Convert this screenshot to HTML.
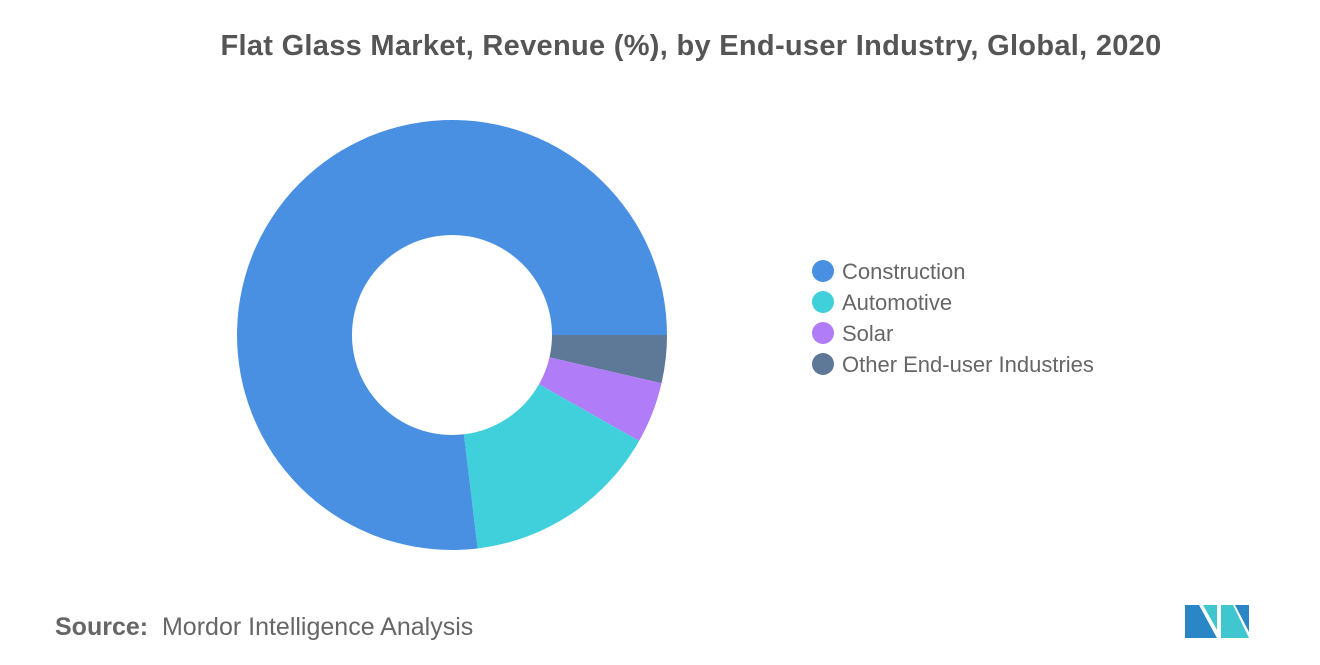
<!DOCTYPE html>
<html><head><meta charset="utf-8"><style>
body{margin:0;width:1320px;height:665px;background:#fff;font-family:"Liberation Sans",sans-serif;overflow:hidden;position:relative}
.t{position:absolute;left:0;width:1382px;top:30px;text-align:center;font-size:29px;color:#555;font-weight:bold;letter-spacing:0.3px}
.leg{position:absolute;left:812px;font-size:22px;color:#666;}
.leg span{display:inline-block;width:22px;height:22px;border-radius:50%;vertical-align:-3px;margin-right:8px}
.src{position:absolute;left:55px;top:613px;font-size:25px;color:#666}
</style></head><body>
<div class="t">Flat Glass Market, Revenue (%), by End-user Industry, Global, 2020</div>
<svg id="c" width="1320" height="665" style="position:absolute;left:0;top:0"></svg>
<div class="leg" style="top:259px"><span style="background:#4a90e2"></span>Construction</div>
<div class="leg" style="top:290px"><span style="background:#3fd0db"></span>Automotive</div>
<div class="leg" style="top:321px"><span style="background:#b07cf7"></span>Solar</div>
<div class="leg" style="top:352px"><span style="background:#5e7898"></span>Other End-user Industries</div>
<div class="src"><b>Source:</b>&nbsp; Mordor Intelligence Analysis</div>
<svg width="70" height="40" style="position:absolute;left:1183px;top:602px">
<polygon points="2,3 16,3 34,36 2,36" fill="#2a86c4"/>
<polygon points="20,3 34,3 34,28" fill="#3fc6cf"/>
<polygon points="38,3 50,3 66,36 38,36" fill="#3fc6cf"/>
<polygon points="52,3 66,3 66,30" fill="#2a86c4"/>
</svg>
<script>
const categories=["Other End-user Industries","Solar","Automotive","Construction"];
const values=[3.6,4.6,14.9,76.9];
const colors=["#5e7898","#b07cf7","#3fd0db","#4a90e2"];
const svg=document.getElementById('c');
const cx=452,cy=335,R=215,r=100;
const total=values.reduce((a,b)=>a+b,0);
let a0=0;
function pt(rad,a){return [cx+rad*Math.cos(a),cy+rad*Math.sin(a)];}
values.forEach((v,i)=>{
 const a1=a0+v/total*2*Math.PI;
 const lg=(a1-a0)>Math.PI?1:0;
 const p1=pt(R,a0),p2=pt(R,a1),p3=pt(r,a1),p4=pt(r,a0);
 const p=document.createElementNS('http://www.w3.org/2000/svg','path');
 p.setAttribute('d',`M${p1}A${R},${R} 0 ${lg} 1 ${p2}L${p3}A${r},${r} 0 ${lg} 0 ${p4}Z`);
 p.setAttribute('fill',colors[i]);
 
 
 svg.appendChild(p);
 a0=a1;
});
</script>
</body></html>
